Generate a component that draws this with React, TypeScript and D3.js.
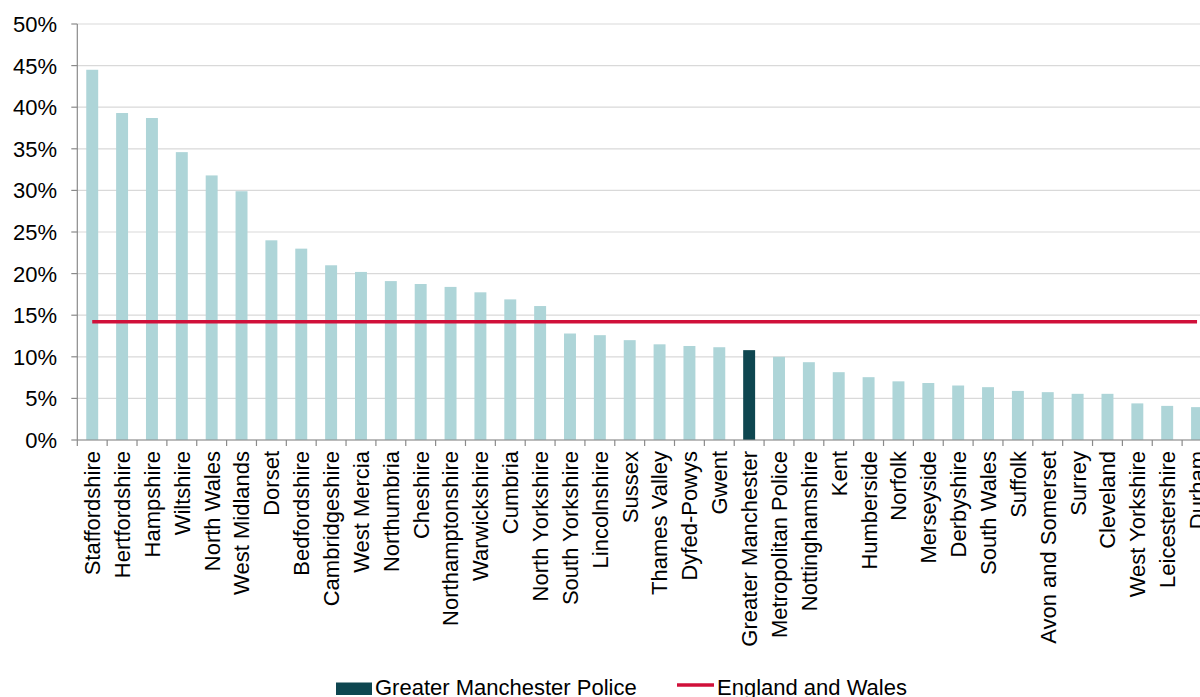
import React from "react";
import * as d3 from "d3";

const categories = [
  "Staffordshire", "Hertfordshire", "Hampshire", "Wiltshire", "North Wales", "West Midlands",
  "Dorset", "Bedfordshire", "Cambridgeshire", "West Mercia", "Northumbria", "Cheshire",
  "Northamptonshire", "Warwickshire", "Cumbria", "North Yorkshire", "South Yorkshire",
  "Lincolnshire", "Sussex", "Thames Valley", "Dyfed-Powys", "Gwent", "Greater Manchester",
  "Metropolitan Police", "Nottinghamshire", "Kent", "Humberside", "Norfolk", "Merseyside",
  "Derbyshire", "South Wales", "Suffolk", "Avon and Somerset", "Surrey", "Cleveland",
  "West Yorkshire", "Leicestershire", "Durham",
];

const values = [
  44.5, 39.3, 38.7, 34.6, 31.8, 29.9, 24.0, 23.0, 21.0, 20.2, 19.1, 18.75,
  18.4, 17.75, 16.9, 16.1, 12.8, 12.6, 12.0, 11.5, 11.3, 11.15, 10.8,
  10.0, 9.35, 8.15, 7.55, 7.05, 6.85, 6.55, 6.35, 5.9, 5.75, 5.55, 5.55,
  4.4, 4.1, 3.95,
];

const highlight = "Greater Manchester";
const englandWales = 14.2;
const yTicks = [0, 5, 10, 15, 20, 25, 30, 35, 40, 45, 50];
const legendLabels = ["Greater Manchester Police", "England and Wales"];

const W = 1200;
const H = 697;
const FONT = "'Liberation Sans', Arial, sans-serif";

export default function App() {
  const step = 29.86;
  const x0 = 77.3;
  const x = d3
    .scaleBand<string>()
    .domain(categories)
    .range([x0, x0 + step * categories.length])
    .paddingInner(0.6)
    .paddingOuter(0.3);
  const y = d3.scaleLinear().domain([0, 50]).range([440, 24]);

  const bw = x.bandwidth();
  const stepX = x.step();
  const bandStart = (c: string) => (x(c) as number) - stepX * 0.3;
  const center = (c: string) => (x(c) as number) + bw / 2;

  const line = d3
    .line<string>()
    .x((c) => center(c))
    .y(() => y(englandWales));

  return (
    <svg
      width={W}
      height={H}
      style={{ position: "absolute", left: 0, top: 0 }}
      fontFamily={FONT}
    >
      <rect x={0} y={0} width={W} height={H} fill="#fff" />
      {/* gridlines */}
      {yTicks.map((t) => (
        <line
          key={"g" + t}
          x1={x0}
          x2={W}
          y1={y(t)}
          y2={y(t)}
          stroke="#d9d9d9"
          strokeWidth={1.2}
        />
      ))}
      {/* bars */}
      {categories.map((c, i) => (
        <rect
          key={c}
          x={x(c)}
          y={y(values[i])}
          width={bw}
          height={y(0) - y(values[i])}
          fill={c === highlight ? "#0e4650" : "#aed5d8"}
        />
      ))}
      {/* y axis */}
      <line x1={x0} x2={x0} y1={y(50)} y2={y(0)} stroke="#8a8a8a" strokeWidth={1.2} />
      {yTicks.map((t) => (
        <g key={"yt" + t}>
          <line x1={x0 - 6} x2={x0} y1={y(t)} y2={y(t)} stroke="#8a8a8a" strokeWidth={1.2} />
          <text
            x={57}
            y={y(t)}
            dy="0.36em"
            textAnchor="end"
            fontSize={22}
            fill="#000"
          >
            {t}%
          </text>
        </g>
      ))}
      {/* x axis */}
      <line x1={x0} x2={W} y1={y(0)} y2={y(0)} stroke="#8a8a8a" strokeWidth={1.2} />
      {categories.map((c) => (
        <line
          key={"xt" + c}
          x1={bandStart(c)}
          x2={bandStart(c)}
          y1={y(0)}
          y2={y(0) + 6}
          stroke="#8a8a8a"
          strokeWidth={1.2}
        />
      ))}
      {categories.map((c) => (
        <text
          key={"xl" + c}
          transform={`translate(${center(c)},451) rotate(-90)`}
          dy="0.36em"
          textAnchor="end"
          fontSize={22}
          fill="#000"
        >
          {c}
        </text>
      ))}
      {/* England and Wales line */}
      <path d={line(categories) || ""} fill="none" stroke="#d0103a" strokeWidth={3.5} />
      {/* legend */}
      <rect x={336} y={682.5} width={36} height={12.5} fill="#0e4650" />
      <text x={375} y={694.5} fontSize={22} fill="#000">
        {legendLabels[0]}
      </text>
      <line x1={677} x2={714} y1={685} y2={685} stroke="#d0103a" strokeWidth={3.5} />
      <text x={717} y={694.5} fontSize={22} fill="#000">
        {legendLabels[1]}
      </text>
    </svg>
  );
}
